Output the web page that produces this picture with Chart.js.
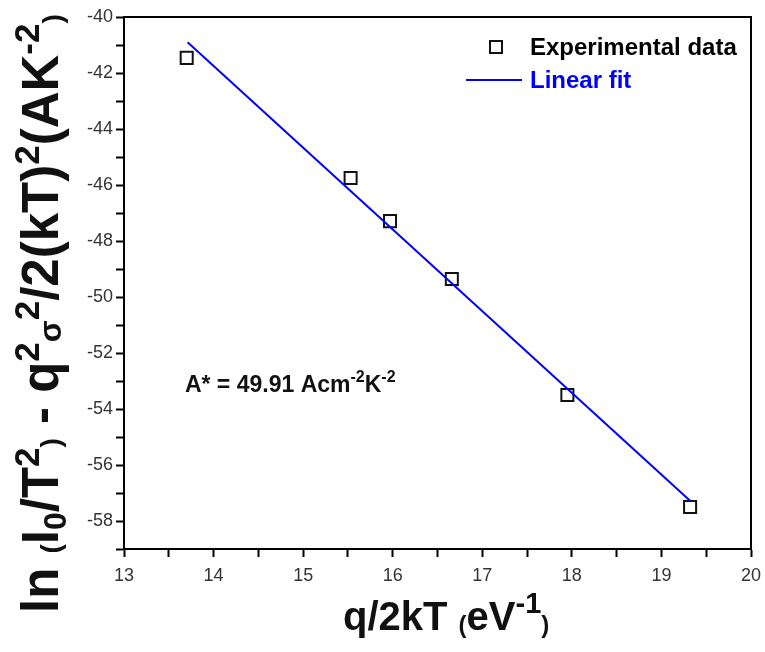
<!DOCTYPE html>
<html><head><meta charset="utf-8">
<script src="https://cdn.jsdelivr.net/npm/chart.js@4/dist/chart.umd.min.js"></script>
<style>html,body{margin:0;padding:0;background:#fff;}canvas{display:block;}</style>
</head><body>
<canvas id="c" width="765" height="652"></canvas>
<script>
// ---- data ----
const expX = [13.70, 15.53, 15.97, 16.66, 17.95, 19.32];
const expY = [-41.46, -45.75, -47.29, -49.36, -53.50, -57.50];
const fitX = [13.71, 19.32];
const fitY = [-40.90, -57.28];
const xTickLabels = [13, 14, 15, 16, 17, 18, 19, 20];
const yTickLabels = [-40, -42, -44, -46, -48, -50, -52, -54, -56, -58];
const seriesNames = ['Experimental data', 'Linear fit'];
const annotationText = ['A* = 49.91 Acm', '-2', 'K', '-2'];

const FONT = '"Liberation Sans", Arial, sans-serif';

function drawRich(ctx, segs, x, y, color) {
  ctx.fillStyle = color;
  ctx.textBaseline = 'alphabetic';
  ctx.textAlign = 'left';
  let cx = x;
  for (const s of segs) {
    ctx.font = 'bold ' + s.size + 'px ' + FONT;
    ctx.fillText(s.t, cx, y + (s.dy || 0));
    cx += ctx.measureText(s.t).width;
  }
}

const decorPlugin = {
  id: 'decor',
  afterDatasetsDraw(chart) {
    const ctx = chart.ctx;
    const a = chart.chartArea;
    const xs = chart.scales.x, ys = chart.scales.y;
    ctx.save();
    // frame (top/right)
    ctx.strokeStyle = '#000';
    ctx.lineWidth = 2;
    ctx.beginPath();
    ctx.moveTo(a.left, a.top); ctx.lineTo(a.right, a.top); ctx.lineTo(a.right, a.bottom);
    ctx.stroke();

    // legend
    const ds0 = chart.data.datasets[0], ds1 = chart.data.datasets[1];
    ctx.strokeStyle = ds0.borderColor; ctx.lineWidth = ds0.borderWidth;
    ctx.strokeRect(490, 41, 12, 12);
    ctx.font = 'bold 24px ' + FONT;
    ctx.fillStyle = '#000'; ctx.textBaseline = 'middle'; ctx.textAlign = 'left';
    ctx.fillText(seriesNames[0], 530, 48);
    ctx.strokeStyle = ds1.borderColor; ctx.lineWidth = ds1.borderWidth;
    ctx.beginPath(); ctx.moveTo(466, 80); ctx.lineTo(522, 80); ctx.stroke();
    ctx.fillStyle = ds1.borderColor;
    ctx.fillText(seriesNames[1], 530, 81);

    // annotation
    const ax = xs.getPixelForValue(13.68), ay = ys.getPixelForValue(-53.39);
    drawRich(ctx, [
      {t: annotationText[0], size: 23},
      {t: annotationText[1], size: 16, dy: -10},
      {t: annotationText[2], size: 23},
      {t: annotationText[3], size: 16, dy: -10}
    ], ax, ay, '#111');

    // x title
    drawRich(ctx, [
      {t: 'q/2kT ', size: 40},
      {t: '(', size: 24, dy: 3},
      {t: 'eV', size: 40},
      {t: '-1', size: 29, dy: -17},
      {t: ')', size: 24, dy: 3}
    ], 343, 630, '#111');

    // y title (rotated)
    ctx.translate(58, 613);
    ctx.rotate(-Math.PI / 2);
    drawRich(ctx, [
      {t: 'ln ', size: 51},
      {t: '(', size: 28, dy: 2},
      {t: 'I', size: 51},
      {t: '0', size: 32, dy: 8},
      {t: '/T', size: 51},
      {t: '2', size: 35, dy: -19},
      {t: ')', size: 28, dy: 2},
      {t: ' - q', size: 51},
      {t: '2', size: 35, dy: -19},
      {t: 'σ', size: 32, dy: 3},
      {t: '2', size: 35, dy: -19},
      {t: '/2(kT)', size: 51},
      {t: '2', size: 35, dy: -19},
      {t: '(AK', size: 51},
      {t: '-2', size: 35, dy: -19},
      {t: ')', size: 28, dy: 4}
    ], 0, 0, '#111');
    ctx.restore();
  }
};

function buildTicks(min, max, step) {
  const arr = [];
  for (let i = 0; min + i * step <= max + 1e-9; i++) arr.push({value: +(min + i * step).toFixed(3)});
  return arr;
}

new Chart(document.getElementById('c'), {
  type: 'scatter',
  data: {
    datasets: [
      {
        label: seriesNames[0],
        data: expX.map((x, i) => ({x, y: expY[i]})),
        pointStyle: 'rect',
        pointRadius: 8.5,
        borderColor: '#111',
        borderWidth: 2,
        backgroundColor: 'rgba(0,0,0,0)',
        order: 2
      },
      {
        label: seriesNames[1],
        type: 'line',
        data: fitX.map((x, i) => ({x, y: fitY[i]})),
        borderColor: '#0000ff',
        borderWidth: 2,
        pointRadius: 0,
        showLine: true,
        fill: false,
        order: 1
      }
    ]
  },
  options: {
    responsive: false,
    animation: false,
    devicePixelRatio: 1,
    layout: {padding: {left: 0, top: 17, right: 14, bottom: 0}},
    plugins: {legend: {display: false}, tooltip: {enabled: false}, title: {display: false}},
    scales: {
      x: {
        type: 'linear', min: 13, max: 20,
        afterBuildTicks: s => { s.ticks = buildTicks(13, 20, 0.5); },
        afterFit: s => { s.height = 103; s.paddingLeft = 0; s.paddingRight = 0; },
        border: {display: true, color: '#000', width: 2},
        grid: {drawOnChartArea: false, drawTicks: true, tickLength: 8, tickColor: '#000', tickWidth: 2},
        ticks: {
          autoSkip: false, maxRotation: 0, padding: 8, color: '#333',
          font: {family: FONT, size: 18},
          callback: v => xTickLabels.includes(v) ? String(v) : ''
        }
      },
      y: {
        type: 'linear', min: -59, max: -40,
        afterBuildTicks: s => { s.ticks = buildTicks(-59, -40, 1); },
        afterFit: s => { s.width = 124; s.paddingTop = 0; s.paddingBottom = 0; },
        border: {display: true, color: '#000', width: 2},
        grid: {drawOnChartArea: false, drawTicks: true, tickLength: 8, tickColor: '#000', tickWidth: 2},
        ticks: {
          autoSkip: false, padding: 3, color: '#333',
          font: {family: FONT, size: 18},
          callback: v => yTickLabels.includes(v) ? String(v) : ''
        }
      }
    }
  },
  plugins: [decorPlugin]
});
</script>
</body></html>
